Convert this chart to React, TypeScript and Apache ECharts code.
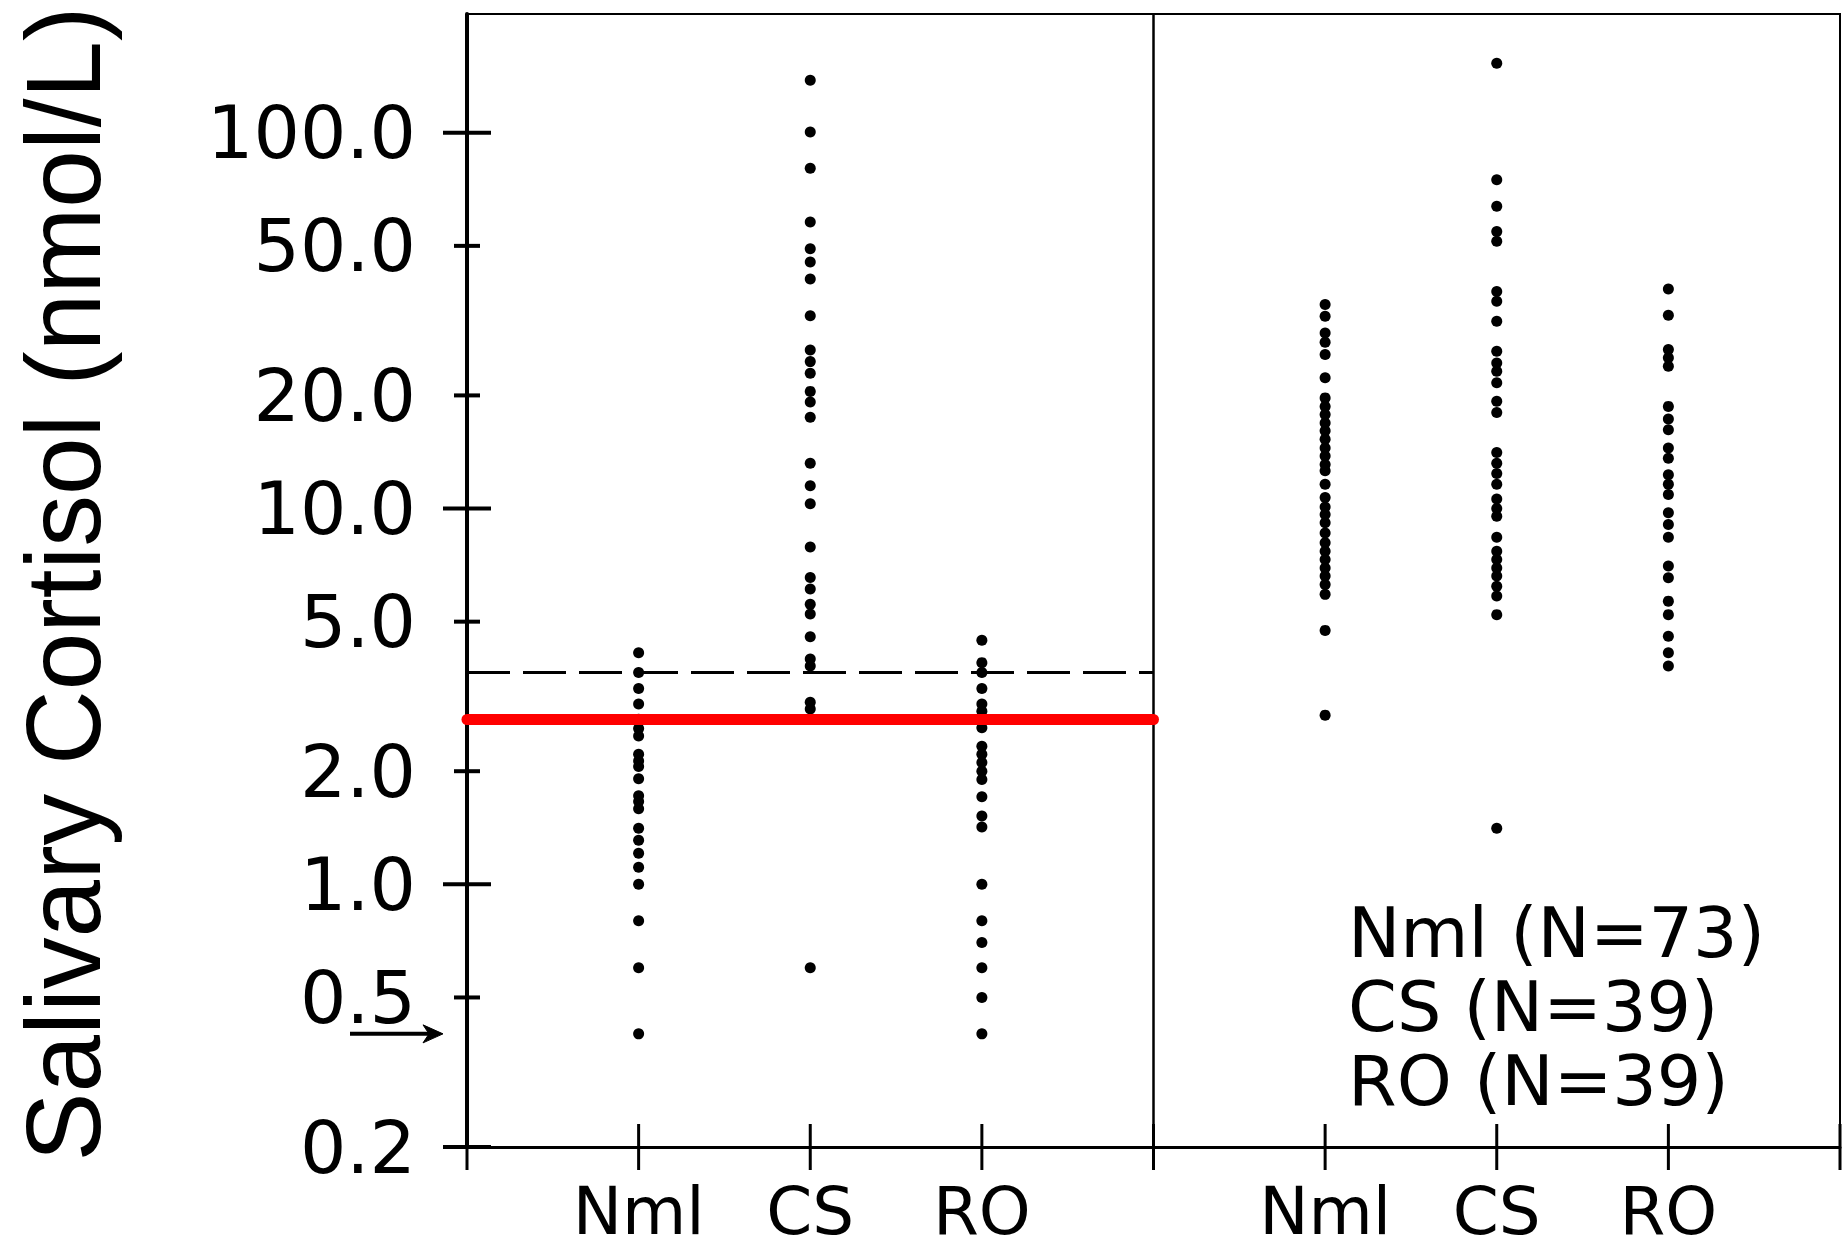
import React, { useEffect, useRef } from "react";
import * as echarts from "echarts";

// ---------- data ----------
const categories = ["Nml", "CS", "RO"];
const legendLines = ["Nml (N=73)", "CS (N=39)", "RO (N=39)"];
const yTitle = "Salivary Cortisol (nmol/L)";
const yTickValues = [100, 50, 20, 10, 5, 2, 1, 0.5, 0.2];
const yMajorTickValues = [100, 10, 1, 0.2];
const yMin = 0.2;
const yMax = 207;
const xTickPositions = [0, 1, 2, 3, 4, 5, 6, 7, 8];
const leftPositions = [1, 2, 3];
const rightPositions = [5, 6, 7];
const panelDivider = 4;
const dashedCutoff = 3.66;
const redCutoff = 2.75;
const detectionLimit = 0.4;

const leftNml = [4.13, 3.66, 3.32, 3.02, 2.75, 2.6, 2.48, 2.22, 2.13, 2.06, 1.91, 1.72, 1.66, 1.59, 1.41, 1.31, 1.21, 1.11, 1.0, 0.8, 0.6, 0.4];
const leftCS = [138, 100.5, 80.4, 57.9, 49.1, 45.3, 40.8, 32.6, 26.4, 24.6, 22.9, 20.5, 19.2, 17.5, 13.2, 11.5, 10.3, 7.9, 6.55, 6.11, 5.56, 5.24, 4.56, 3.98, 3.81, 3.05, 2.93, 0.6];
const leftRO = [4.46, 3.89, 3.66, 3.32, 3.02, 2.89, 2.61, 2.33, 2.22, 2.11, 2.0, 1.9, 1.71, 1.52, 1.42, 1.0, 0.8, 0.7, 0.6, 0.5, 0.4];
const rightNml = [34.9, 32.5, 29.3, 27.7, 25.7, 22.3, 19.7, 18.7, 17.8, 16.9, 16.1, 15.3, 14.5, 13.8, 13.1, 12.6, 11.6, 10.7, 10.1, 9.64, 9.16, 8.61, 8.11, 7.7, 7.32, 6.95, 6.61, 6.28, 5.91, 4.74, 2.82];
const rightCS = [153, 75.0, 63.7, 54.6, 51.4, 37.8, 35.6, 31.5, 26.2, 24.4, 23.2, 21.6, 19.3, 18.0, 14.1, 13.2, 12.4, 11.6, 10.6, 10.0, 9.54, 8.39, 7.7, 7.32, 6.95, 6.61, 6.21, 5.85, 5.22, 1.41];
const rightRO = [38.4, 32.7, 26.5, 25.2, 23.9, 18.7, 17.3, 16.2, 14.5, 13.6, 12.3, 11.6, 10.9, 9.74, 9.07, 8.39, 7.03, 6.54, 5.67, 5.22, 4.57, 4.13, 3.81];

const leftGroups = [leftNml, leftCS, leftRO];
const rightGroups = [rightNml, rightCS, rightRO];

const FONT = "DejaVu Sans";

export default function App() {
  const ref = useRef<HTMLDivElement>(null);

  useEffect(() => {
    const chart = echarts.init(ref.current as HTMLDivElement, null, { renderer: "svg" });

    const dotSeries = (name: string, x: number, vals: number[]) => ({
      type: "scatter",
      name,
      data: vals.map((v) => [x, v]),
      symbol: "circle",
      symbolSize: 11,
      itemStyle: { color: "#000", opacity: 1 },
      silent: true,
      z: 2,
    });

    const series: any[] = [];
    leftGroups.forEach((g, i) => series.push(dotSeries("L " + categories[i], leftPositions[i], g)));
    rightGroups.forEach((g, i) => series.push(dotSeries("R " + categories[i], rightPositions[i], g)));

    // y-axis ticks with labels
    series.push({
      type: "scatter",
      name: "yTicks",
      silent: true,
      clip: false,
      z: 4,
      symbol: "rect",
      itemStyle: { color: "#000", opacity: 1 },
      data: yTickValues.map((v) => {
        const major = yMajorTickValues.includes(v);
        return {
          value: [0, v],
          symbolSize: major ? [48, 4] : [26, 4],
          label: { distance: major ? 27 : 38 },
        };
      }),
      label: {
        show: true,
        position: "left",
        formatter: (p: any) => Number(p.value[1]).toFixed(1),
        fontSize: 73,
        fontFamily: FONT,
        color: "#000",
        opacity: 1,
      },
    });

    // x-axis ticks crossing axis
    series.push({
      type: "scatter",
      name: "xTicks",
      silent: true,
      clip: false,
      z: 4,
      symbol: "rect",
      symbolSize: [3, 46],
      itemStyle: { color: "#000", opacity: 1 },
      data: xTickPositions.map((x) => [x, yMin]),
    });

    // reference lines
    series.push({
      type: "line",
      name: "refs",
      data: [],
      silent: true,
      markLine: {
        silent: true,
        z: 1,
        symbol: ["none", "none"],
        label: { show: false },
        data: [
          [
            { coord: [0, dashedCutoff], lineStyle: { color: "#000", width: 3, type: [43, 13] } },
            { coord: [panelDivider, dashedCutoff] },
          ],
          { xAxis: panelDivider, lineStyle: { color: "#000", width: 2.5, type: "solid" } },
        ],
      },
    });
    series.push({
      type: "line",
      name: "redLine",
      data: [],
      silent: true,
      markLine: {
        silent: true,
        z: 6,
        symbol: ["none", "none"],
        label: { show: false },
        lineStyle: { color: "#ff0000", width: 11, type: "solid", cap: "round" },
        data: [[{ coord: [0, redCutoff] }, { coord: [panelDivider, redCutoff] }]],
      },
    });

    chart.setOption({
      animation: false,
      backgroundColor: "#fff",
      grid: {
        left: 467,
        right: 4,
        top: 14,
        bottom: 105,
        show: true,
        borderColor: "#000",
        borderWidth: 2,
        backgroundColor: "transparent",
      },
      xAxis: {
        type: "value",
        min: 0,
        max: 8,
        interval: 1,
        axisLine: { show: true, onZero: false, lineStyle: { color: "#000", width: 3 } },
        axisTick: { show: false },
        splitLine: { show: false },
        axisLabel: {
          formatter: (v: number) => {
            const r = Math.round(v) % 4;
            return r === 0 ? "" : categories[r - 1];
          },
          fontSize: 66,
          lineHeight: 56,
          fontFamily: FONT,
          color: "#000",
          margin: 36,
        },
      },
      yAxis: {
        type: "log",
        logBase: 10,
        min: yMin,
        max: yMax,
        axisLine: { show: true, onZero: false, lineStyle: { color: "#000", width: 4 } },
        axisTick: { show: false },
        axisLabel: { show: false },
        splitLine: { show: false },
      },
      series,
    });

    const yArrow = chart.convertToPixel({ yAxisIndex: 0 } as any, detectionLimit) as number;

    chart.setOption({
      graphic: [
        {
          type: "text",
          x: 64,
          y: 584,
          rotation: Math.PI / 2,
          scaleX: 0.985,
          silent: true,
          style: {
            text: yTitle,
            fontSize: 105,
            fontFamily: "Liberation Sans",
            fill: "#000",
            align: "center",
            verticalAlign: "middle",
          },
        },
        ...legendLines.map((t, i) => ({
          type: "text",
          x: 1348,
          y: 933 + i * 74,
          silent: true,
          style: {
            text: t,
            fontSize: 70,
            fontFamily: FONT,
            fill: "#000",
            align: "left",
            verticalAlign: "middle",
          },
        })),
        {
          type: "line",
          silent: true,
          shape: { x1: 350, y1: yArrow, x2: 436, y2: yArrow },
          style: { stroke: "#000", lineWidth: 4 },
        },
        {
          type: "polygon",
          silent: true,
          shape: { points: [[423, yArrow - 9], [443, yArrow], [423, yArrow + 9], [429, yArrow]] },
          style: { fill: "#000", stroke: "#000", lineWidth: 1 },
        },
      ],
    });

    return () => chart.dispose();
  }, []);

  return (
    <div
      ref={ref}
      style={{ position: "fixed", left: 0, top: 0, width: 1844, height: 1252, background: "#fff" }}
    />
  );
}
